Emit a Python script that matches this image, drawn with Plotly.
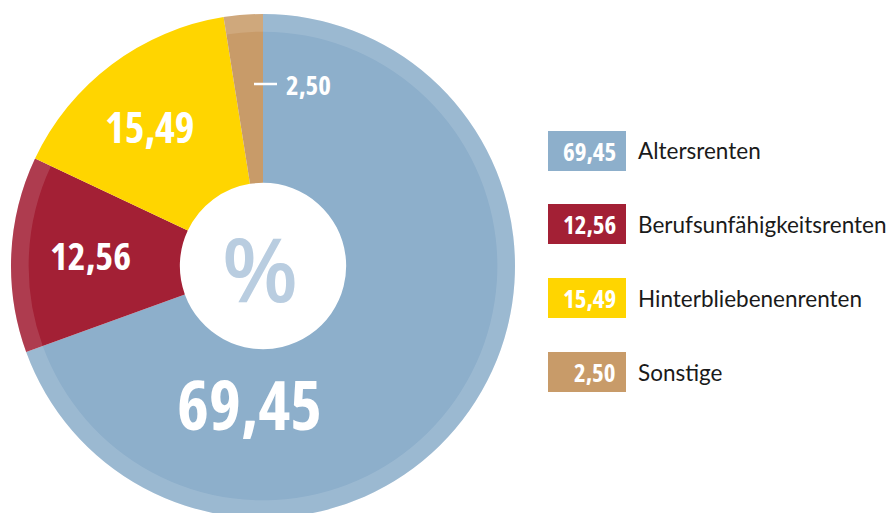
import plotly.graph_objects as go

categories = ["Altersrenten", "Berufsunfähigkeitsrenten", "Hinterbliebenenrenten", "Sonstige"]
values = [69.45, 12.56, 15.49, 2.50]
value_labels = ["69,45", "12,56", "15,49", "2,50"]
colors = ["#8DAFCB", "#A32035", "#FFD500", "#C89B69"]
rim_colors = ["rgba(255,255,255,0.13)", "rgba(255,255,255,0.13)", "rgba(255,255,255,0)", "rgba(255,255,255,0.13)"]

W, H = 894, 513
OFF = 8  # page body margin offset
CX, CY, R = 263, 266, 252  # page pixel coords

def px(x):
    return (x - OFF) / W

def py(y):
    return 1 - (y - OFF) / H

dom_x = [px(CX - R), px(CX + R)]
dom_y = [py(CY + R), py(CY - R)]

fig = go.Figure()
fig.add_trace(go.Pie(
    labels=categories, values=values, sort=False, direction="clockwise", rotation=0,
    hole=0.33, marker=dict(colors=colors, line=dict(width=0)),
    textinfo="none", hoverinfo="label+value", showlegend=False,
    domain=dict(x=dom_x, y=dom_y),
))
# lighter outer rim
fig.add_trace(go.Pie(
    labels=categories, values=values, sort=False, direction="clockwise", rotation=0,
    hole=0.93, marker=dict(colors=rim_colors, line=dict(width=0)),
    textinfo="none", hoverinfo="skip", showlegend=False,
    domain=dict(x=dom_x, y=dom_y),
))

COND = "Open Sans"


def cond(t):
    return '<span style="font-stretch:condensed"><b>%s</b></span>' % t


annotations = []
shapes = []

# in-pie labels
pie_label_pos = [(249, 403, 68), (90, 255, 38), (150, 127, 42)]
for i, (x, y, s) in enumerate(pie_label_pos):
    annotations.append(dict(x=px(x), y=py(y), xref="paper", yref="paper", text=cond(value_labels[i]),
                            showarrow=False, font=dict(family=COND, size=s, color="white"),
                            xanchor="center", yanchor="middle"))
# outside small label
annotations.append(dict(x=px(284), y=py(84), xref="paper", yref="paper", text=cond(value_labels[3]),
                        showarrow=False, font=dict(family=COND, size=27, color="white"),
                        xanchor="left", yanchor="middle"))
shapes.append(dict(type="line", xref="paper", yref="paper", x0=px(254), x1=px(277), y0=py(84), y1=py(84),
                   line=dict(color="white", width=2.5)))
# center percent sign
annotations.append(dict(x=px(260), y=py(268), xref="paper", yref="paper", text="%",
                        showarrow=False, font=dict(family="Open Sans", size=88, color="#B9CDE0", weight=600),
                        xanchor="center", yanchor="middle"))

# legend
box_tops = [131, 204, 278, 352]
for i, top in enumerate(box_tops):
    shapes.append(dict(type="rect", xref="paper", yref="paper", x0=px(548), x1=px(626),
                       y0=py(top + 40), y1=py(top), fillcolor=colors[i], line=dict(width=0)))
    annotations.append(dict(x=px(618), y=py(top + 20), xref="paper", yref="paper",
                            text=cond(value_labels[i]), showarrow=False,
                            font=dict(family=COND, size=25, color="white"),
                            xanchor="right", yanchor="middle"))
    annotations.append(dict(x=px(636), y=py(top + 20), xref="paper", yref="paper",
                            text=categories[i], showarrow=False,
                            font=dict(family="Lato", size=22.5, color="#1a1a1a"),
                            xanchor="left", yanchor="middle"))

fig.update_layout(
    width=W, height=H, margin=dict(l=0, r=0, t=0, b=0),
    paper_bgcolor="white", plot_bgcolor="white",
    annotations=annotations, shapes=shapes,
)
fig.write_html("out.html")
